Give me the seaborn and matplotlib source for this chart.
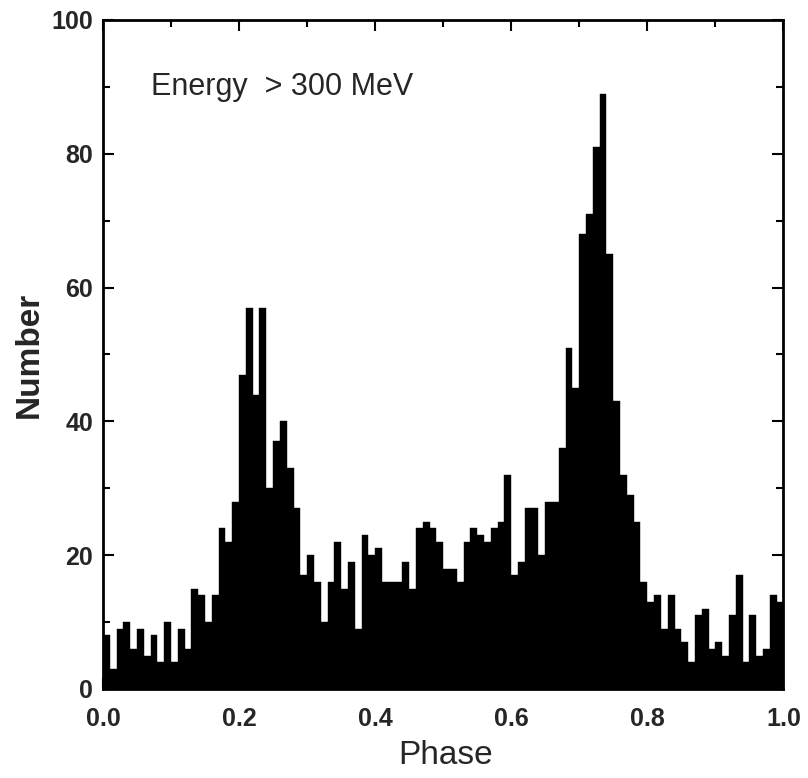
import numpy as np
import pandas as pd
import matplotlib
matplotlib.use("Agg")
import matplotlib.pyplot as plt
from matplotlib.ticker import MultipleLocator
import seaborn as sns

# counts per phase bin (100 bins of width 0.01)
counts = [8, 3, 9, 10, 6, 9, 5, 8, 4, 10,
          4, 9, 6, 15, 14, 10, 14, 24, 22, 28,
          47, 57, 44, 57, 30, 37, 40, 33, 27, 17,
          20, 16, 10, 16, 22, 15, 19, 9, 23, 20,
          21, 16, 16, 16, 19, 15, 24, 25, 24, 22,
          18, 18, 16, 22, 24, 23, 22, 24, 25, 32,
          17, 19, 27, 27, 20, 28, 28, 36, 51, 45,
          68, 71, 81, 89, 65, 43, 32, 29, 25, 16,
          13, 14, 9, 14, 9, 7, 4, 11, 12, 6,
          7, 5, 11, 17, 4, 11, 5, 6, 14, 13]
n_bins = len(counts)
phase_centers = (np.arange(n_bins) + 0.5) / n_bins

x_ticks = [0.0, 0.2, 0.4, 0.6, 0.8, 1.0]
x_ticklabels = ["0.0", "0.2", "0.4", "0.6", "0.8", "1.0"]
y_ticks = [0, 20, 40, 60, 80, 100]

df = pd.DataFrame({"phase": phase_centers, "count": counts})

sns.set_style("ticks")
plt.rcParams["font.family"] = ["Liberation Sans", "DejaVu Sans"]

fig = plt.figure(figsize=(8.08, 7.78), dpi=100)
ax = fig.add_axes([0.1275, 0.1144, 0.842, 0.860])

sns.histplot(data=df, x="phase", weights="count", bins=n_bins, binrange=(0, 1), ax=ax,
             color="black", alpha=1, edgecolor="black", linewidth=0.3)

ax.set_xlim(0, 1)
ax.set_ylim(0, 100)
ax.set_xticks(x_ticks)
ax.set_xticklabels(x_ticklabels)
ax.set_yticks(y_ticks)
ax.xaxis.set_minor_locator(MultipleLocator(0.1))
ax.yaxis.set_minor_locator(MultipleLocator(10))

for side in ["top", "bottom", "left", "right"]:
    ax.spines[side].set_visible(True)
    ax.spines[side].set_linewidth(2)
    ax.spines[side].set_color("black")

ax.tick_params(which="both", direction="in", top=True, right=True, width=1.5, color="black")
ax.tick_params(which="major", length=8, labelsize=18)
ax.tick_params(axis="x", which="major", pad=13)
ax.tick_params(axis="y", which="major", pad=7)
ax.tick_params(which="minor", length=5)
for lab in ax.get_xticklabels() + ax.get_yticklabels():
    lab.set_fontweight("bold")

ax.set_xlabel("Phase", fontsize=24, va="center")
ax.set_ylabel("Number", fontsize=24, fontweight="bold", va="center")
ax.xaxis.set_label_coords(0.503, -0.099)
ax.yaxis.set_label_coords(-0.108, 0.50)

ax.text(0.07, 90, "Energy  > 300 MeV", fontsize=22, ha="left", va="center")

fig.savefig("out.png", dpi=100, facecolor="white")
